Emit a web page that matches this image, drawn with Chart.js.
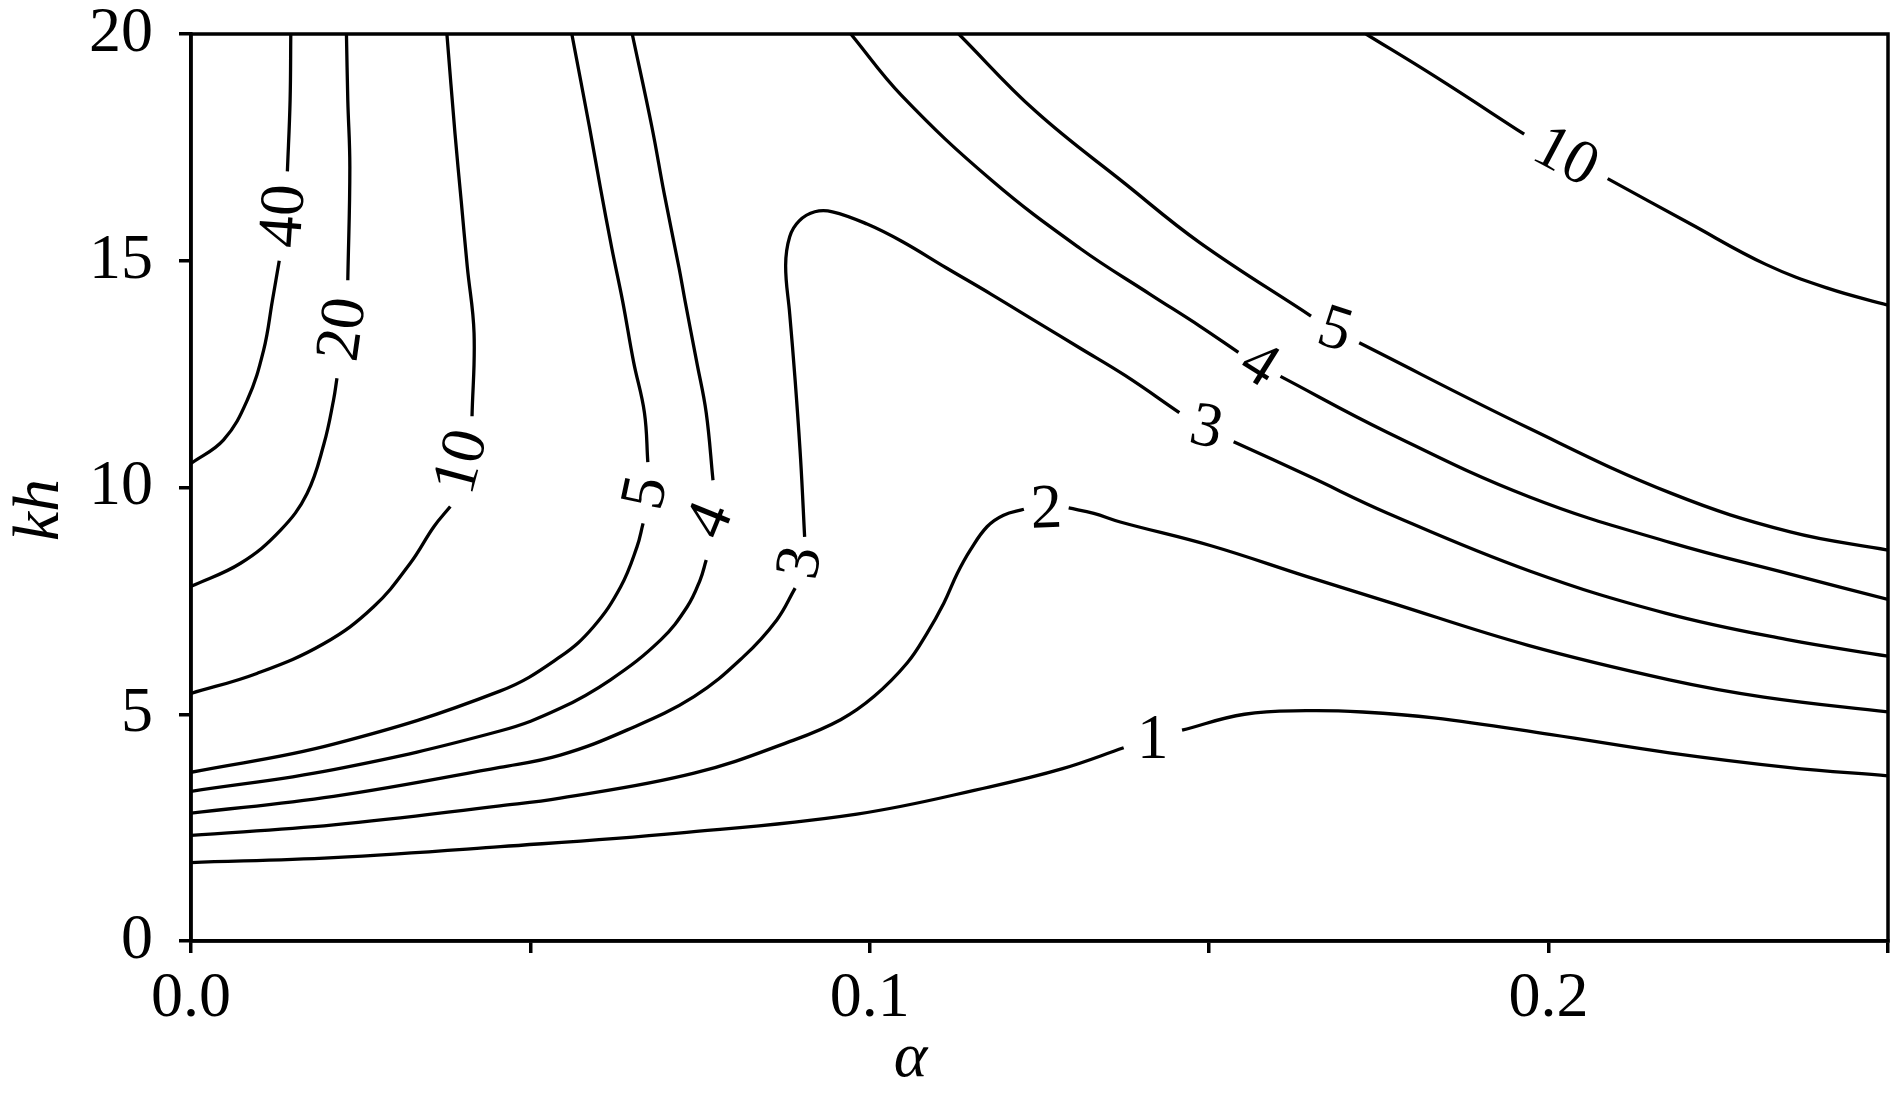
<!DOCTYPE html>
<html>
<head>
<meta charset="utf-8">
<script src="https://cdn.jsdelivr.net/npm/chart.js@4/dist/chart.umd.min.js"></script>
<style>
html, body { margin: 0; padding: 0; background: #fff; }
</style>
</head>
<body>
<canvas id="contourChart" width="1892" height="1101"></canvas>
<script>
// contour lines, [alpha, kh] pairs; null = gap where the level label sits
const c1  = [[0,1.73],[0.021,1.84],[0.0456,2.08],[0.0718,2.38],[0.0981,2.80],[0.1177,3.40],[0.1284,3.80],[0.1374,4.26],null,
             [0.146,4.65],[0.1552,5.0],[0.1643,5.08],[0.1726,5.05],[0.1831,4.92],[0.2004,4.55],[0.2178,4.15],[0.2352,3.83],[0.25,3.64]];
const c2  = [[0,2.33],[0.021,2.56],[0.0455,2.98],[0.0544,3.15],[0.0741,3.70],[0.0888,4.43],[0.0957,4.88],[0.1006,5.39],[0.1055,6.13],
             [0.1084,6.78],[0.1109,7.45],[0.1129,8.11],[0.1148,8.62],[0.1173,9.14],[0.1197,9.39],[0.1227,9.52],null,
             [0.1293,9.55],[0.133,9.43],[0.1369,9.24],[0.1504,8.71],[0.1643,8.04],[0.1761,7.49],[0.197,6.52],[0.2178,5.76],[0.2317,5.38],[0.25,5.05]];
const c3  = [[0,2.82],[0.021,3.19],[0.0455,3.83],[0.0544,4.10],[0.0642,4.65],[0.0741,5.39],[0.0814,6.27],[0.0863,7.08],[0.089,7.78],null,
             [0.0904,8.91],[0.0898,10.64],[0.089,12.37],[0.0882,13.83],[0.0876,14.89],[0.0882,15.53],[0.0896,15.88],[0.0919,16.08],[0.0945,16.08],
             [0.0996,15.81],[0.1047,15.43],[0.1113,14.84],[0.1179,14.26],[0.1244,13.67],[0.131,13.07],[0.1376,12.47],[0.1456,11.65],null,
             [0.1536,11.01],[0.1648,10.24],[0.1762,9.44],[0.1972,8.16],[0.2172,7.23],[0.235,6.65],[0.25,6.28]];
const c4a = [[0,3.30],[0.021,3.78],[0.0455,4.63],[0.0544,5.13],[0.0618,5.76],[0.0692,6.64],[0.0731,7.37],[0.075,7.96],[0.0759,8.40],null,
             [0.0769,10.16],[0.0759,11.65],[0.0745,12.77],[0.0728,14.10],[0.0719,14.84],[0.0697,16.49],[0.0679,17.95],[0.065,20]];
const c4b = [[0.0972,20],[0.1047,18.64],[0.1179,16.78],[0.131,15.27],[0.1413,14.26],[0.1486,13.56],[0.1543,12.98],null,
             [0.1605,12.45],[0.1762,11.22],[0.1972,9.79],[0.2181,8.78],[0.2356,8.09],[0.25,7.53]];
const c5a = [[0,3.72],[0.021,4.34],[0.0455,5.51],[0.0544,6.27],[0.0593,6.93],[0.0633,7.81],[0.0657,8.69],[0.0666,9.21],null,
             [0.0673,10.56],[0.0668,11.65],[0.0652,12.77],[0.0636,14.10],[0.062,15.27],[0.0603,16.62],[0.0587,17.95],[0.0561,20]];
const c5b = [[0.1131,20],[0.1244,18.30],[0.1376,16.70],[0.1486,15.40],[0.165,13.78],null,
             [0.1721,13.19],[0.1972,11.30],[0.2181,9.87],[0.2356,9.02],[0.25,8.62]];
const c10a = [[0,5.46],[0.0097,5.90],[0.0196,6.56],[0.0269,7.37],[0.0323,8.33],[0.0358,9.14],[0.0382,9.58],null,
              [0.0414,11.57],[0.0417,13.40],[0.0407,14.87],[0.0398,16.33],[0.0389,17.79],[0.0377,20]];
const c10b = [[0.1731,20],[0.1832,19.07],[0.1964,17.79],null,[0.2087,16.81],[0.2208,15.82],[0.232,14.92],[0.2412,14.39],[0.25,14.02]];
const c20 = [[0,7.82],[0.0073,8.33],[0.0132,9.06],[0.0171,9.87],[0.0196,10.97],[0.021,11.93],[0.0215,12.41],null,
             [0.0231,14.57],[0.0234,17.07],[0.0231,18.54],[0.0229,20]];
const c40 = [[0,10.53],[0.0048,11.05],[0.0083,11.93],[0.0107,13.03],[0.012,14.13],[0.013,15.0],null,
             [0.0142,16.97],[0.0146,18.54],[0.0147,20]];

const levels = ['1', '2', '3', '4', '4', '5', '5', '10', '10', '20', '40'];
const lines  = [c1, c2, c3, c4a, c4b, c5a, c5b, c10a, c10b, c20, c40];
// turn of each label text (degrees), one per gap
const labelTurn = [[0], [-2], [-80, 12], [-68], [32], [-78], [18], [-75], [28], [-82], [-86]];

const SERIF = '"Liberation Serif", "Times New Roman", serif';

// writes the level value into each gap of a line
const contourLabels = {
    id: 'contourLabels',
    afterDatasetsDraw(chart) {
        const ctx = chart.ctx;
        ctx.save();
        ctx.font = '63px ' + SERIF;
        ctx.fillStyle = '#000';
        ctx.textAlign = 'center';
        ctx.textBaseline = 'middle';
        chart.data.datasets.forEach((ds, di) => {
            const pts = chart.getDatasetMeta(di).data;
            let g = 0;
            ds.data.forEach((d, i) => {
                if (!isNaN(d.x) || i === 0) return;
                const a = pts[i - 1], b = pts[i + 1];
                ctx.save();
                ctx.translate((a.x + b.x) / 2, (a.y + b.y) / 2);
                ctx.rotate(labelTurn[di][g++] * Math.PI / 180);
                ctx.fillText(ds.label, 0, 2);
                ctx.restore();
            });
        });
        ctx.restore();
    }
};

// box round the plot, and the two axis names (placed off-centre as in the original)
const frame = {
    id: 'frame',
    afterDraw(chart) {
        const {ctx, chartArea: a} = chart;
        ctx.save();
        ctx.strokeStyle = '#000';
        ctx.lineWidth = 3.5;
        ctx.strokeRect(a.left, a.top, a.right - a.left, a.bottom - a.top);

        ctx.fillStyle = '#000';
        ctx.textAlign = 'center';
        ctx.textBaseline = 'alphabetic';
        ctx.font = 'italic 64px ' + SERIF;
        ctx.fillText('α', a.left + 0.424 * (a.right - a.left), 1076);

        ctx.font = 'italic 66px ' + SERIF;
        ctx.translate(58, a.top + 0.525 * (a.bottom - a.top));
        ctx.rotate(-Math.PI / 2);
        ctx.fillText('kh', 0, 0);
        ctx.restore();
    }
};

const ctx = document.getElementById('contourChart').getContext('2d');
new Chart(ctx, {
    type: 'scatter',
    data: {
        datasets: lines.map((pts, k) => ({
            label: levels[k],
            data: pts.map(p => p ? {x: p[0], y: p[1]} : {x: NaN, y: NaN}),
            showLine: true,
            borderColor: '#000',
            borderWidth: 3.3,
            pointRadius: 0,
            tension: 0.4,
            spanGaps: false
        }))
    },
    options: {
        responsive: false,
        devicePixelRatio: 1,
        animation: false,
        layout: { padding: { top: 34, right: 4, left: 0, bottom: 0 } },
        plugins: { legend: { display: false }, tooltip: { enabled: false } },
        scales: {
            x: {
                type: 'linear',
                min: 0,
                max: 0.25,
                afterFit: s => { s.height = 160; s.paddingLeft = 0; s.paddingRight = 0; },
                grid: { drawOnChartArea: false, color: '#000', lineWidth: 3.5, tickLength: 12 },
                border: { display: true, color: '#000', width: 3.5 },
                ticks: {
                    stepSize: 0.05,
                    autoSkip: false,
                    maxRotation: 0,
                    padding: 8,
                    color: '#000',
                    font: { family: SERIF, size: 64 },
                    callback: v => {
                        const r = Math.round(v * 100);
                        return r % 10 === 0 ? (r / 100).toFixed(1) : '';
                    }
                }
            },
            y: {
                type: 'linear',
                min: 0,
                max: 20,
                afterFit: s => { s.width = 191; s.paddingTop = 0; s.paddingBottom = 0; },
                grid: { drawOnChartArea: false, color: '#000', lineWidth: 3.5, tickLength: 12 },
                border: { display: true, color: '#000', width: 3.5 },
                ticks: {
                    stepSize: 5,
                    padding: 26,
                    color: '#000',
                    font: { family: SERIF, size: 64 }
                }
            }
        }
    },
    plugins: [contourLabels, frame]
});
</script>
</body>
</html>
